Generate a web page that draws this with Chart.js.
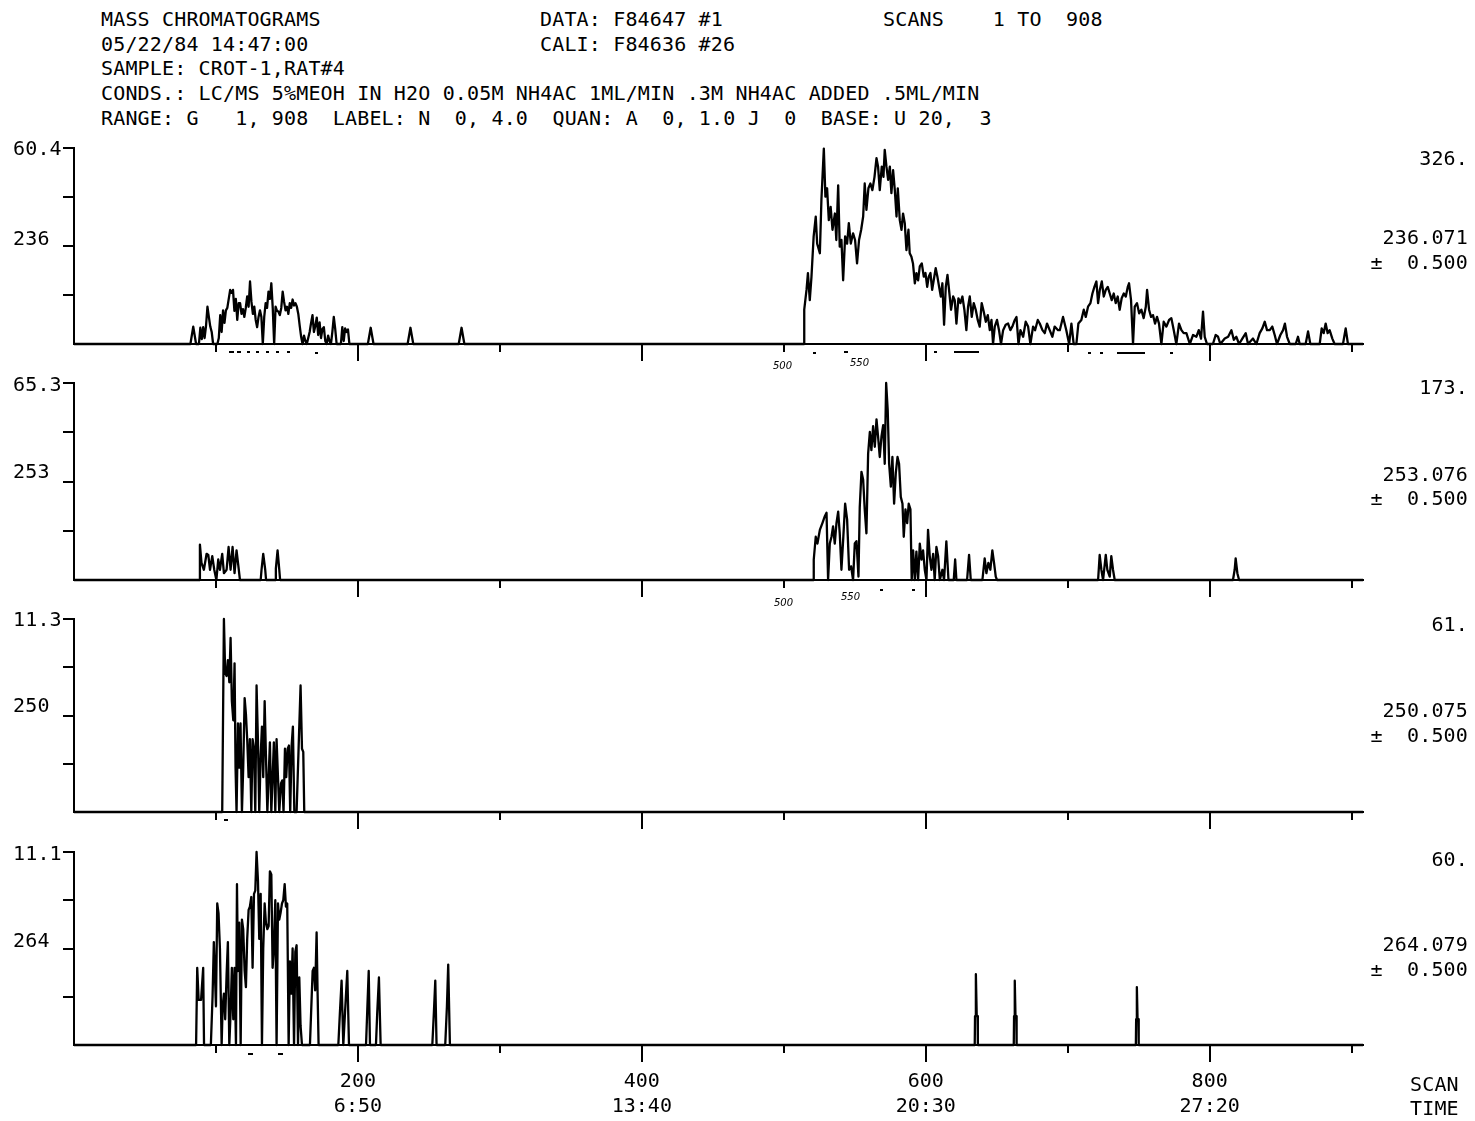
<!DOCTYPE html>
<html>
<head>
<meta charset="utf-8">
<title>Mass chromatograms F84647</title>
<script src="https://cdn.jsdelivr.net/npm/chart.js@4.4.1/dist/chart.umd.min.js"></script>
<style>
  html, body { margin: 0; padding: 0; background: #fff; }
  body { width: 1475px; height: 1121px; position: relative; overflow: hidden;
         font-family: "DejaVu Sans Mono", monospace; color: #000; }
  canvas { position: absolute; left: 0; }
  .t { position: absolute; white-space: pre; font-size: 20px; line-height: 24px; letter-spacing: 0.16px; }
  .r { text-align: right; right: 7px; }
  .hand { position: absolute; font-family: "DejaVu Sans", sans-serif; font-style: italic; font-size: 10px; line-height: 12px; }
  .tick { position: absolute; height: 2px; background: #000; }
</style>
</head>
<body>

<!-- header block -->
<div class="t" style="left:101px;top:7px">MASS CHROMATOGRAMS</div>
<div class="t" style="left:540px;top:7px">DATA: F84647 #1</div>
<div class="t" style="left:883px;top:7px">SCANS    1 TO  908</div>
<div class="t" style="left:101px;top:32px">05/22/84 14:47:00</div>
<div class="t" style="left:540px;top:32px">CALI: F84636 #26</div>
<div class="t" style="left:101px;top:56px">SAMPLE: CROT-1,RAT#4</div>
<div class="t" style="left:101px;top:81px">CONDS.: LC/MS 5%MEOH IN H2O 0.05M NH4AC 1ML/MIN .3M NH4AC ADDED .5ML/MIN</div>
<div class="t" style="left:101px;top:106px">RANGE: G   1, 908  LABEL: N  0, 4.0  QUAN: A  0, 1.0 J  0  BASE: U 20,  3</div>

<canvas id="p1"></canvas>
<canvas id="p2"></canvas>
<canvas id="p3"></canvas>
<canvas id="p4"></canvas>

<!-- per-trace labels: percent full scale and mass on the left, counts and mass window on the right -->
<div class="t" style="left:13px;top:136px">60.4</div>
<div class="t" style="left:13px;top:226px">236</div>
<div class="t r" style="top:146px">326.</div>
<div class="t r" style="top:225px">236.071</div>
<div class="t r" style="top:250px">±  0.500</div>

<div class="t" style="left:13px;top:372px">65.3</div>
<div class="t" style="left:13px;top:459px">253</div>
<div class="t r" style="top:375px">173.</div>
<div class="t r" style="top:462px">253.076</div>
<div class="t r" style="top:486px">±  0.500</div>

<div class="t" style="left:13px;top:607px">11.3</div>
<div class="t" style="left:13px;top:693px">250</div>
<div class="t r" style="top:612px">61.</div>
<div class="t r" style="top:698px">250.075</div>
<div class="t r" style="top:723px">±  0.500</div>

<div class="t" style="left:13px;top:841px">11.1</div>
<div class="t" style="left:13px;top:928px">264</div>
<div class="t r" style="top:847px">60.</div>
<div class="t r" style="top:932px">264.079</div>
<div class="t r" style="top:957px">±  0.500</div>

<div class="t" style="left:1410px;top:1072px">SCAN</div>
<div class="t" style="left:1410px;top:1096px">TIME</div>

<!-- pencil notes under the first two traces -->
<div class="hand" style="left:773px;top:360px">500</div>
<div class="hand" style="left:850px;top:357px">550</div>
<div class="hand" style="left:774px;top:597px">500</div>
<div class="hand" style="left:841px;top:591px">550</div>

<!-- peak-label dashes printed just under the baselines -->
<div class="tick" style="left:229px;top:351px;width:5px"></div>
<div class="tick" style="left:237px;top:351px;width:4px"></div>
<div class="tick" style="left:247px;top:351px;width:3px"></div>
<div class="tick" style="left:256px;top:351px;width:3px"></div>
<div class="tick" style="left:266px;top:351px;width:3px"></div>
<div class="tick" style="left:276px;top:351px;width:3px"></div>
<div class="tick" style="left:287px;top:351px;width:3px"></div>
<div class="tick" style="left:315px;top:352px;width:3px"></div>
<div class="tick" style="left:813px;top:352px;width:3px"></div>
<div class="tick" style="left:844px;top:351px;width:4px"></div>
<div class="tick" style="left:934px;top:351px;width:3px"></div>
<div class="tick" style="left:954px;top:351px;width:25px"></div>
<div class="tick" style="left:1088px;top:352px;width:3px"></div>
<div class="tick" style="left:1100px;top:352px;width:3px"></div>
<div class="tick" style="left:1117px;top:352px;width:28px"></div>
<div class="tick" style="left:1170px;top:352px;width:3px"></div>
<div class="tick" style="left:880px;top:589px;width:3px"></div>
<div class="tick" style="left:912px;top:589px;width:3px"></div>
<div class="tick" style="left:224px;top:819px;width:4px"></div>
<div class="tick" style="left:248px;top:1053px;width:5px"></div>
<div class="tick" style="left:278px;top:1053px;width:5px"></div>

<script>
// ---- scan axis ----
const scanMin = 0;
const scanMax = 908;
const minorScans = [100, 300, 500, 700, 900];
const majorScans = [200, 400, 600, 800];
const timeLabels = ['6:50', '13:40', '20:30', '27:20'];
const intensityFractions = [0.25, 0.5, 0.75, 1];

// ---- m/z 236.071 (full scale 326 counts) ----
const m236Scans = [
  0, 82, 84, 86, 88, 89, 90, 91, 92, 93, 94, 95, 96, 97, 98, 101, 102, 103, 104, 105,
  106, 107, 108, 109, 110, 111, 112, 113, 114, 115, 116, 117, 118, 119, 120, 121, 122, 123, 124, 125,
  126, 127, 128, 129, 130, 131, 132, 133, 134, 135, 136, 137, 138, 139, 140, 141, 142, 143, 144, 145,
  146, 147, 148, 149, 150, 151, 152, 153, 154, 155, 156, 157, 158, 159, 160, 161, 162, 163, 164, 165,
  166, 167, 168, 169, 170, 171, 172, 173, 174, 175, 176, 177, 178, 179, 180, 181, 182, 183, 184, 185,
  188, 189, 190, 191, 192, 193, 194, 207, 209, 211, 235, 237, 239, 271, 273, 275,
  514.3, 514.4, 516, 517, 518.3, 519.5, 521, 522.5, 523.5, 525.4, 526.5, 528.2, 529.3, 530.5, 531.7, 533, 534.3, 536, 537, 538.3,
  539.4, 540.6, 541.8, 543.2, 544.6, 545.8, 547.2, 548.8, 550.2, 551.6, 553, 554.5, 555.9, 557, 558.2, 559.6, 561, 562.4, 563.9, 565.3,
  566.4, 567.6, 569, 570.2, 571.1, 572.3, 573.5, 574.7, 575.8, 577, 578.2, 579.4, 580.3, 581.7, 582.9, 584, 585.2, 586.4, 587.8, 588.7,
  589.9, 591, 592.3, 593.4, 594.6, 595.8, 597.2, 598.6, 599.8, 601, 602.1, 603.3, 604.5, 605.6, 607, 608.2, 609.4, 610.6, 611.7, 612.9,
  614.1, 615.3, 616.4, 617.8, 619.3, 620.4, 621.6, 623, 624.4, 625.8, 627.2, 628.6, 629.8, 631, 632.4, 633.8, 635.2, 636.6, 638, 639.4,
  640.8, 642.3, 643.7, 645.1, 646.3, 647.4, 648.6, 650.2, 651.6, 653, 654.5, 656.3, 658, 659.6, 661, 662.7, 663.9, 665.3, 666.7, 668.6,
  670.4, 672.1, 673.7, 675.6, 677, 678.9, 680.3, 682.2, 683.8, 685.4, 687.3, 689.2, 690.8, 693.2, 694.4, 696.7, 699, 701, 702.6, 704.2,
  706.1, 707.5, 709.6, 711.3, 712.7, 714.3, 716, 717.4, 718.8, 720.2, 721.4, 722.6, 724, 725.4, 726.8, 728.2, 729.6, 731, 732.4, 733.8,
  735.2, 736.6, 738, 739.5, 740.9, 742.3, 743.2, 744.6, 746, 747.2, 748.8, 750.3, 751.9, 753.5, 755, 755.9, 757.3, 758.7, 760.1, 761.5,
  762.9, 764.3, 766, 767.6, 769.5, 771.4, 773, 774.7, 776.5, 778.4, 780.1, 781.7, 783.6, 786, 788.3, 790.6, 792.3, 793.9, 795.3, 796.5,
  798.1, 802.3, 804.2, 805.9, 807.5, 810.6, 813, 815.3, 817, 818.8, 820.7, 823, 825.4, 827, 830.5, 832.9, 835.2, 837.1, 838.8, 840.4,
  842.3, 844.1, 845.8, 847.4, 849.8, 851.7, 853, 854.5, 856.4, 860.6, 862.2, 863.4, 867.6, 869.3, 870.9, 877.5, 878.9, 880.3, 881.7, 883.1,
  884.5, 886.4, 888, 893.9, 895.8, 897.4, 908
];
const m236Counts = [
  0, 0, 29, 0, 0, 27, 8, 28, 10, 30, 62, 45, 29, 20, 0, 0, 10, 48, 20, 56,
  35, 56, 60, 75, 90, 85, 90, 55, 75, 40, 68, 68, 50, 58, 45, 60, 79, 62, 104, 70,
  50, 62, 40, 28, 45, 56, 45, 0, 45, 68, 60, 87, 75, 101, 60, 0, 62, 55, 54, 48,
  60, 87, 70, 56, 62, 50, 68, 60, 74, 64, 68, 62, 50, 30, 12, 0, 14, 5, 0, 10,
  20, 35, 48, 20, 30, 44, 15, 36, 10, 25, 28, 5, 0, 14, 5, 0, 20, 45, 25, 0,
  0, 28, 5, 26, 20, 24, 0, 0, 27, 0, 0, 27, 0, 0, 27, 0,
  0, 57, 90, 118, 73, 112, 178, 212, 167, 151, 240, 325, 245, 259, 206, 228, 190, 217, 173, 264,
  162, 173, 106, 179, 167, 201, 167, 184, 173, 134, 173, 190, 212, 267, 223, 259, 267, 256, 278, 309,
  295, 256, 295, 278, 323, 295, 273, 295, 251, 289, 256, 212, 259, 206, 190, 217, 201, 156, 190, 151,
  145, 134, 101, 118, 106, 129, 134, 112, 118, 95, 112, 118, 90, 106, 126, 112, 95, 79, 101, 32,
  95, 115, 90, 57, 79, 73, 34, 76, 68, 79, 57, 23, 62, 79, 45, 68, 57, 40, 29, 68,
  54, 37, 48, 23, 40, 0, 29, 40, 23, 0, 23, 32, 34, 23, 29, 40, 45, 0, 23, 12,
  37, 29, 0, 29, 23, 40, 34, 23, 18, 34, 23, 12, 29, 23, 23, 45, 23, 0, 34, 0,
  0, 34, 40, 57, 45, 62, 68, 84, 95, 104, 68, 90, 104, 79, 90, 95, 84, 73, 84, 68,
  79, 57, 76, 84, 79, 95, 101, 73, 0, 62, 68, 51, 57, 43, 62, 90, 57, 45, 48, 34,
  45, 34, 0, 37, 29, 40, 43, 23, 0, 34, 23, 18, 18, 0, 15, 12, 23, 9, 54, 12,
  0, 0, 15, 12, 0, 9, 12, 23, 7, 12, 0, 9, 18, 0, 9, 0, 18, 26, 37, 23,
  23, 29, 15, 0, 15, 23, 34, 12, 0, 0, 12, 0, 0, 21, 0, 0, 26, 18, 34, 18,
  23, 9, 0, 0, 26, 0, 0
];

// ---- m/z 253.076 (full scale 173 counts) ----
const m253Scans = [
  0, 88.6, 88.7, 89.8, 91.5, 93.4, 94.6, 95.8, 97.4, 98.8, 100.3, 101.6, 102.8, 104.4, 105.6, 107.5, 108.9, 110.3, 111.7, 113.1,
  114.5, 116, 116.9, 131.5, 132.1, 133.3, 134.7, 135.3, 141.6, 142.2, 143.4, 144.6, 145.2,
  521, 521.1, 522.5, 523.7, 525.4, 527.2, 528.9, 530.1, 531.2, 532.4, 533.6, 534.7, 535.9, 537.1, 538.3, 539.4, 540.6, 541.8, 543.2, 544.6,
  546, 547.4, 548.8, 550, 551.2, 552.6, 553.5, 554.7, 555.9, 557, 558.2, 559.4, 560.6, 561.7, 562.9, 564.1, 565.3, 566.4, 567.6, 568.8,
  570, 571.1, 572.1, 573.2, 574.2, 575.4, 576.5, 577.7, 578.9, 580.1, 581.2, 582.4, 583.6, 584.5, 585.7, 586.9, 588, 589.2, 590.1, 591.1,
  592.3, 593.4, 594.6, 595.8, 597, 598.1, 599.3, 600.5, 601.6, 602.8, 604, 605.2, 606.3, 607.5, 608.7, 609.9, 611.7, 612.9, 614.5, 616,
  619.7, 620.7, 621.6, 629.1, 630.5, 631.7, 639.9, 641.5, 642.7, 644.1, 645.5, 646.9, 648.1, 649.3, 650.2,
  721.4, 722.5, 723.7, 724.9, 726.8, 727.9, 729.6, 730.7, 731.9, 733.1, 816.4, 817.6, 818.3, 819.5, 820.7, 908
];
const m253Counts = [
  0, 0, 31, 15, 9, 23, 22, 9, 21, 9, 0, 18, 9, 23, 6, 9, 29, 9, 29, 6,
  26, 10, 0, 0, 9, 23, 9, 0, 0, 10, 26, 9, 0,
  0, 18, 38, 32, 44, 50, 56, 59, 0, 32, 38, 47, 32, 50, 60, 41, 9, 35, 67, 53,
  9, 12, 0, 32, 34, 3, 64, 95, 88, 62, 41, 111, 130, 114, 135, 117, 141, 126, 108, 126,
  136, 102, 173, 149, 102, 82, 108, 67, 94, 108, 102, 73, 67, 38, 62, 50, 67, 62, 0, 26,
  0, 25, 0, 32, 18, 26, 9, 0, 44, 21, 9, 23, 0, 29, 21, 0, 9, 0, 34, 0,
  0, 18, 0, 0, 22, 0, 0, 19, 6, 15, 9, 26, 15, 3, 0,
  0, 22, 9, 0, 22, 9, 3, 21, 9, 0, 0, 9, 19, 6, 0, 0
];

// ---- m/z 250.075 (full scale 61 counts) ----
const m250Scans = [
  0, 104.4, 105.6, 106.5, 107.5, 108.4, 109.4, 110.3, 111.2, 112.2, 113.1, 113.8, 114.5, 115.5, 116.4, 117.3, 118.3, 119.2, 120.2, 121.1,
  122, 123, 123.9, 124.9, 125.8, 126.8, 127.7, 128.6, 129.6, 130.5, 131.5, 132.4, 133.3, 134.3, 135.2, 136.2, 137.1, 138, 139, 139.9,
  140.8, 141.8, 142.7, 143.7, 144.6, 145.8, 146.7, 147.6, 148.6, 149.5, 150.5, 151.4, 152.3, 153.3, 154.2, 155.2, 156.8, 158.2, 159.6, 160.6,
  161.5, 162.2, 908
];
const m250Counts = [
  0, 0, 61, 44, 43, 48, 41, 55, 35, 29, 47, 14, 0, 28, 14, 28, 0, 14, 36, 31,
  23, 11, 23, 0, 23, 20, 0, 40, 22, 0, 18, 27, 11, 35, 18, 0, 11, 22, 0, 11,
  22, 0, 23, 11, 0, 9, 10, 0, 20, 11, 20, 21, 0, 21, 27, 0, 0, 20, 40, 20,
  19, 0, 0
];

// ---- m/z 264.079 (full scale 60 counts) ----
const m264Scans = [
  0, 86, 86.8, 87.8, 89.5, 91, 91.6, 96.4, 97.6, 98.5, 100, 100.9, 101.8, 102.8, 104, 104.7, 105.6, 106.5, 107.5, 108.4,
  109.4, 110.3, 111.2, 112.2, 113.1, 114.1, 114.8, 115.5, 116.4, 117.4, 118.3, 119.2, 120.2, 121.1, 122, 123, 123.9, 124.9, 125.8, 126.8,
  127.7, 128.6, 129.6, 130.5, 131.5, 132.4, 133.3, 134.3, 135.2, 136.2, 137.1, 138, 139, 139.9, 140.8, 141.8, 142.7, 143.7, 144.6, 145.5,
  146.5, 147.4, 148.4, 149.3, 150.2, 151.2, 152.1, 153.1, 154, 155, 155.9, 156.8, 157.8, 158.7, 159.6, 160.6, 166.2, 167.1, 168.1, 169,
  169.9, 170.9, 171.6, 172.3, 186.2, 187.3, 188.5, 189.7, 190.9, 192.5, 193.7, 205.7, 206.6, 207.6, 208.5, 212.7, 213.6, 214.8, 216, 252.4,
  253.5, 254.5, 255.4, 261.5, 262.7, 263.6, 264.8,
  634.5, 634.7, 635.3, 635.9, 636.5, 636.7, 662, 662.2, 662.7, 663.2, 663.8, 664, 748, 748.2, 748.7, 749.2, 749.8, 750, 908
];
const m264Counts = [
  0, 0, 24, 14, 14, 24, 0, 0, 15, 32, 12, 44, 41, 30, 0, 12, 16, 8, 22, 32,
  0, 10, 24, 8, 24, 0, 50, 23, 38, 0, 39, 36, 23, 18, 33, 42, 43, 46, 24, 47,
  48, 60, 51, 33, 47, 0, 30, 44, 38, 36, 37, 54, 53, 24, 30, 45, 0, 44, 39, 41,
  44, 45, 50, 43, 44, 0, 26, 16, 30, 0, 29, 31, 0, 21, 6, 0, 0, 11, 23, 24,
  17, 35, 16, 0, 0, 10, 20, 0, 10, 23, 0, 0, 11, 23, 0, 0, 10, 21, 0, 0,
  10, 20, 0, 0, 12, 25, 0,
  0, 9, 22, 9, 9, 0, 0, 9, 20, 9, 9, 0, 0, 8, 18, 8, 8, 0, 0
];

// ---- layout of the four stacked traces (pixel geometry, not data) ----
const PLOT_LEFT = 74, PLOT_RIGHT = 1363, PAGE_W = 1475;
const panels = [
  { id: 'p1', scans: m236Scans, counts: m236Counts, fullScale: 326, top: 148, base: 344, axisH: 20, labels: false },
  { id: 'p2', scans: m253Scans, counts: m253Counts, fullScale: 173, top: 383, base: 580, axisH: 20, labels: false },
  { id: 'p3', scans: m250Scans, counts: m250Counts, fullScale: 61,  top: 619, base: 812, axisH: 20, labels: false },
  { id: 'p4', scans: m264Scans, counts: m264Counts, fullScale: 60,  top: 852, base: 1045, axisH: 76, labels: true }
];

Chart.defaults.font.family = '"DejaVu Sans Mono", monospace';
Chart.defaults.color = '#000';

// longer tick marks at every 200 scans
const majorTickPlugin = {
  id: 'majorTicks',
  afterDraw(chart) {
    const xs = chart.scales.x, ctx = chart.ctx, b = chart.chartArea.bottom;
    ctx.save();
    ctx.strokeStyle = '#000';
    ctx.lineWidth = 2;
    majorScans.forEach(v => {
      const px = Math.round(xs.getPixelForValue(v));
      ctx.beginPath();
      ctx.moveTo(px, b);
      ctx.lineTo(px, b + 17);
      ctx.stroke();
    });
    ctx.restore();
  }
};

const TOP_PAD = 12;
panels.forEach(p => {
  const canvas = document.getElementById(p.id);
  const canvasTop = p.top - TOP_PAD;
  const height = p.labels ? (1121 - canvasTop) : (p.base - canvasTop + p.axisH);
  canvas.style.top = canvasTop + 'px';
  canvas.width = PAGE_W;
  canvas.height = height;
  canvas.style.width = PAGE_W + 'px';
  canvas.style.height = height + 'px';

  const points = p.scans.map((s, i) => ({ x: s, y: p.counts[i] }));

  new Chart(canvas, {
    type: 'line',
    data: {
      datasets: [{
        data: points,
        borderColor: '#000',
        borderWidth: 2.3,
        pointRadius: 0,
        tension: 0,
        fill: false,
        borderJoinStyle: 'round',
        clip: 8
      }]
    },
    plugins: [majorTickPlugin],
    options: {
      responsive: false,
      animation: false,
      devicePixelRatio: 1,
      events: [],
      layout: { padding: { left: PLOT_LEFT - 12, right: PAGE_W - PLOT_RIGHT, top: TOP_PAD, bottom: 0 } },
      plugins: { legend: { display: false }, tooltip: { enabled: false }, title: { display: false } },
      scales: {
        x: {
          type: 'linear',
          min: scanMin,
          max: scanMax,
          afterBuildTicks: axis => {
            axis.ticks = minorScans.concat(majorScans).sort((a, b) => a - b).map(v => ({ value: v }));
          },
          afterFit: axis => { axis.height = p.axisH; },
          border: { display: true, color: '#000', width: 2 },
          grid: { display: true, drawOnChartArea: false, drawTicks: true, tickLength: 8, color: '#000', lineWidth: 2 },
          ticks: {
            display: p.labels,
            autoSkip: false,
            maxRotation: 0,
            padding: 16,
            color: '#000',
            font: { size: 20, lineHeight: 1.25 },
            callback: value => {
              const k = majorScans.indexOf(value);
              return k >= 0 ? [String(value), timeLabels[k]] : '';
            }
          }
        },
        y: {
          type: 'linear',
          min: 0,
          max: p.fullScale,
          afterBuildTicks: axis => {
            axis.ticks = intensityFractions.map(f => ({ value: f * p.fullScale }));
          },
          afterFit: axis => { axis.width = 12; },
          border: { display: true, color: '#000', width: 2 },
          grid: { display: true, drawOnChartArea: false, drawTicks: true, tickLength: 11, color: '#000', lineWidth: 2 },
          ticks: { display: false }
        }
      }
    }
  });
});
</script>
</body>
</html>
